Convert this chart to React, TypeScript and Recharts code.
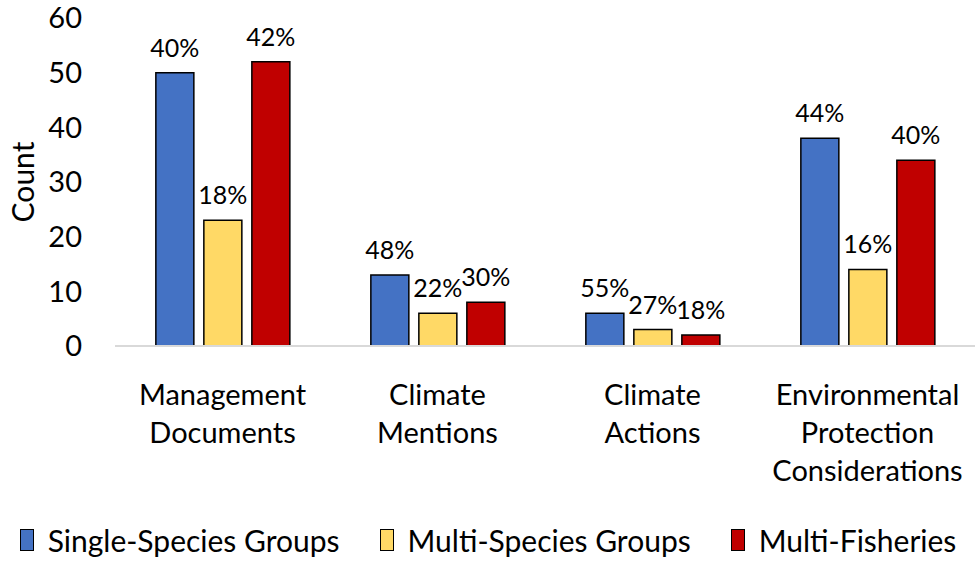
import { BarChart, Bar, XAxis, YAxis, Legend, LabelList } from "recharts";

document.body.style.margin = "0";

const categories = [
  "Management Documents",
  "Climate Mentions",
  "Climate Actions",
  "Environmental Protection Considerations",
];
const singleSpecies = [50, 13, 6, 38];
const multiSpecies = [23, 6, 3, 14];
const multiFisheries = [52, 8, 2, 34];
const singlePct = ["40%", "48%", "55%", "44%"];
const multiPct = ["18%", "22%", "27%", "16%"];
const fisheriesPct = ["42%", "30%", "18%", "40%"];
const yTicks = [0, 10, 20, 30, 40, 50, 60];

const series = [
  { key: "single", name: "Single-Species Groups", color: "#4472C4", pct: singlePct },
  { key: "multi", name: "Multi-Species Groups", color: "#FFD966", pct: multiPct },
  { key: "fisheries", name: "Multi-Fisheries", color: "#C00000", pct: fisheriesPct },
];

const data = categories.map((name, i) => ({
  name,
  single: singleSpecies[i],
  multi: multiSpecies[i],
  fisheries: multiFisheries[i],
}));

const FONT = "Lato, sans-serif";

function CategoryTick(props: any) {
  const { x, y, payload } = props;
  const words = String(payload.value).split(" ");
  return (
    <text x={x} y={y} textAnchor="middle" fill="#000" fontSize={29} fontFamily={FONT}>
      {words.map((w: string, i: number) => (
        <tspan key={i} x={x} dy={i === 0 ? 51 : 38}>
          {w}
        </tspan>
      ))}
    </text>
  );
}

function LegendContent() {
  return (
    <div
      style={{
        display: "flex",
        justifyContent: "center",
        gap: 40,
        fontFamily: FONT,
        fontSize: 30,
        whiteSpace: "nowrap",
        width: 976,
      }}
    >
      {series.map((s) => (
        <div key={s.key} style={{ display: "flex", alignItems: "center", flexShrink: 0 }}>
          <span
            style={{
              display: "inline-block",
              width: 12,
              height: 20,
              background: s.color,
              border: "1.5px solid #000",
              marginRight: 14,
            }}
          />
          <span>{s.name}</span>
        </div>
      ))}
    </div>
  );
}

export default function App() {
  return (
    <BarChart
      width={976}
      height={562}
      data={data}
      margin={{ top: 18, right: 1, left: 0, bottom: 0 }}
      barCategoryGap="19%"
      barGap={10}
    >
      <XAxis
        dataKey="name"
        interval={0}
        height={176}
        tick={<CategoryTick />}
        tickLine={false}
        axisLine={{ stroke: "#d9d9d9", strokeWidth: 2 }}
      />
      <YAxis
        width={115}
        domain={[0, 60]}
        ticks={yTicks}
        axisLine={false}
        tickLine={false}
        tickSize={0}
        tickMargin={33}
        tick={{ fill: "#000", fontSize: 29, fontFamily: FONT }}
        label={(p: any) => {
          const vb = p.viewBox;
          const cx = vb.x + 22;
          const cy = vb.y + vb.height / 2;
          return (
            <text
              x={cx}
              y={cy}
              transform={`rotate(-90, ${cx}, ${cy})`}
              textAnchor="middle"
              dominantBaseline="central"
              fill="#000"
              fontSize={30}
              fontFamily={FONT}
            >
              Count
            </text>
          );
        }}
      />
      <Legend verticalAlign="bottom" height={40} content={<LegendContent />} />
      {series.map((s) => (
        <Bar
          key={s.key}
          dataKey={s.key}
          name={s.name}
          fill={s.color}
          stroke="#000"
          strokeWidth={1.5}
          isAnimationActive={false}
        >
          <LabelList
            dataKey={s.key}
            position="top"
            offset={16}
            formatter={(v: any) => {
              const i = data.findIndex((d: any) => d[s.key] === v);
              return s.pct[i];
            }}
            fill="#000"
            fontSize={25}
            fontFamily={FONT}
          />
        </Bar>
      ))}
    </BarChart>
  );
}
